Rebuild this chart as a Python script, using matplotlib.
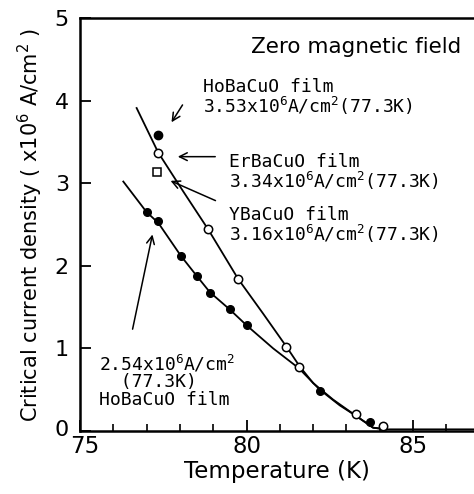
import matplotlib
matplotlib.use("Agg")
import matplotlib.pyplot as plt
import matplotlib.transforms as mtransforms
import numpy as np

plt.rcParams['mathtext.fontset'] = 'custom'
plt.rcParams['mathtext.rm'] = 'DejaVu Sans Mono'
plt.rcParams['mathtext.it'] = 'DejaVu Sans Mono'

# ---- data ----
T_filled_low = [77.0, 77.35, 78.03, 78.5, 78.9, 79.5, 80.0, 82.2, 83.7]
J_filled_low = [2.65, 2.54, 2.12, 1.88, 1.67, 1.48, 1.28, 0.49, 0.11]

T_open = [77.35, 78.85, 79.75, 81.2, 81.57, 83.3, 84.1]
J_open = [3.37, 2.44, 1.84, 1.02, 0.78, 0.20, 0.06]

T_ho_best = [77.35]
J_ho_best = [3.58]

T_ybco = [77.3]
J_ybco = [3.14]

# guide curves
T_curve_up = [76.7, 77.35, 78.1, 78.85, 79.75, 80.5, 81.2, 81.6, 82.0, 82.6, 83.3, 83.8, 84.2, 86.9]
J_curve_up = [3.91, 3.37, 2.90, 2.44, 1.84, 1.42, 1.02, 0.78, 0.58, 0.38, 0.18, 0.04, 0.02, 0.02]
T_curve_low = [76.3, 77.0, 77.35, 78.03, 78.5, 78.9, 79.5, 80.0, 80.8, 81.57, 82.2, 82.8, 83.3, 83.8, 84.2]
J_curve_low = [3.02, 2.65, 2.52, 2.12, 1.88, 1.68, 1.47, 1.28, 1.00, 0.76, 0.50, 0.31, 0.18, 0.04, 0.02]

x_ticks = [75, 80, 85]
y_ticks = [0, 1, 2, 3, 4, 5]

fig = plt.figure(figsize=(4.74, 4.94), dpi=100)
ax = fig.add_axes([80/474, 1-431/494, 1-80/474, (431-18)/494])

ax.plot(T_curve_up, J_curve_up, color='black', lw=1.3, zorder=2)
ax.plot(T_curve_low, J_curve_low, color='black', lw=1.3, zorder=2)

ax.plot(T_filled_low, J_filled_low, 'o', ms=5.5, color='black', zorder=3)
ax.plot(T_ho_best, J_ho_best, 'o', ms=6, color='black', zorder=3)
ax.plot(T_open, J_open, 'o', ms=6, mfc='white', mec='black', mew=1.1, zorder=3)
ax.plot(T_ybco, J_ybco, 's', ms=5.5, mfc='white', mec='black', mew=1.1, zorder=3)

ax.set_xlim(75, 86.83)
ax.set_ylim(0, 5)
ax.set_xticks(x_ticks)
ax.set_xticks(np.arange(76, 87, 1), minor=True)
ax.set_yticks(y_ticks)
ax.tick_params(axis='both', which='major', direction='in', length=8, width=1.3)
ax.tick_params(axis='x', which='major', labelsize=16.5, pad=3)
ax.tick_params(axis='y', which='major', labelsize=16, pad=8)
ax.tick_params(axis='x', which='minor', direction='in', length=5, width=1.2)
for s in ['left', 'bottom', 'top']:
    ax.spines[s].set_linewidth(1.8)
ax.spines['right'].set_visible(False)

fig.canvas.draw()
xl = ax.get_xticklabels()
xl[0].set_transform(xl[0].get_transform() + mtransforms.ScaledTranslation(5/100, 0, fig.dpi_scale_trans))
yl = ax.get_yticklabels()
yl[0].set_transform(yl[0].get_transform() + mtransforms.ScaledTranslation(0, 3/100, fig.dpi_scale_trans))

ax.set_xlabel('Temperature (K)', fontsize=16.5, labelpad=1)
ax.set_ylabel(r'Critical current density ( x10$^{6}$ A/cm$^{2}$ )', fontsize=15, labelpad=7,
              math_fontfamily='dejavusans')

mono = dict(family='DejaVu Sans Mono', fontsize=13, linespacing=0.95)

def px(x, y):
    return (75 + (x - 80) / 33.3, (431 - y) / 82.5)

ax.text(*px(461, 47), 'Zero magnetic field', fontsize=15.5, ha='right', va='center')

ax.text(*px(203, 98), 'HoBaCuO film\n3.53x10$^{6}$A/cm$^{2}$(77.3K)', ha='left', va='center', **mono)
ax.text(*px(229, 173), 'ErBaCuO film\n3.34x10$^{6}$A/cm$^{2}$(77.3K)', ha='left', va='center', **mono)
ax.text(*px(229, 226), 'YBaCuO film\n3.16x10$^{6}$A/cm$^{2}$(77.3K)', ha='left', va='center', **mono)
ax.text(*px(99, 381), '2.54x10$^{6}$A/cm$^{2}$\n  (77.3K)\nHoBaCuO film', ha='left', va='center', **mono)

arr = dict(arrowstyle='->', color='black', lw=1.1, mutation_scale=14)
ax.annotate('', xy=px(170, 125), xytext=px(184, 103), arrowprops=arr)
ax.annotate('', xy=px(175, 157), xytext=px(218, 157), arrowprops=arr)
ax.annotate('', xy=px(168, 180), xytext=px(218, 202), arrowprops=arr)
ax.annotate('', xy=px(153, 232), xytext=px(132, 332), arrowprops=arr)

fig.savefig('out.png', dpi=100)
